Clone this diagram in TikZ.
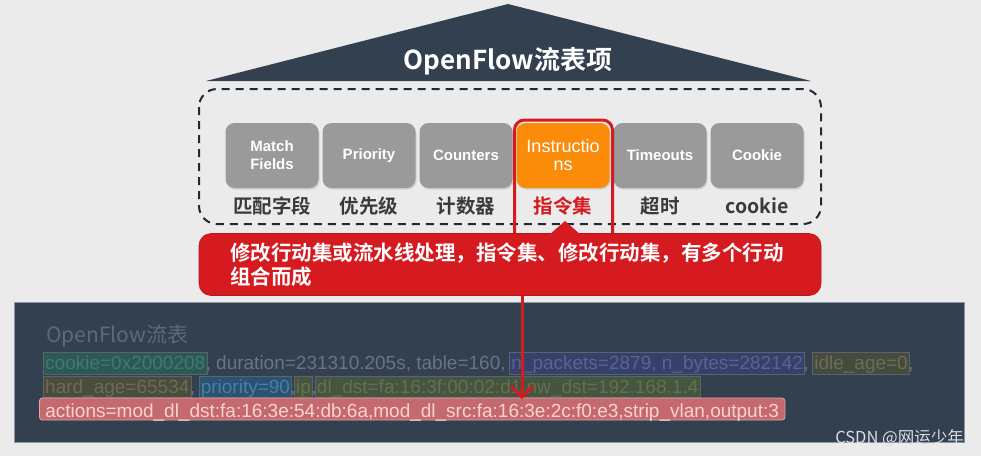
\documentclass[tikz,border=0pt]{standalone}
\usepackage{fontspec}
\setmainfont{Liberation Sans}
\newfontfamily\cjk{Noto Sans CJK SC}
\newfontfamily\cjkb{Noto Sans CJK SC Bold}
\usetikzlibrary{arrows.meta,fit,shadows}
\definecolor{bgcol}{HTML}{EBEBEB}
\definecolor{roofcol}{HTML}{334050}
\definecolor{dashcol}{HTML}{1F2A38}
\definecolor{boxgray}{HTML}{9A9A9A}
\definecolor{orangecol}{HTML}{FA8C0A}
\definecolor{redcol}{HTML}{D51A20}
\definecolor{labcol}{HTML}{3A3A3A}
\definecolor{panelcol}{HTML}{334050}
\definecolor{panelborder}{HTML}{8A96A2}
\definecolor{ptitle}{HTML}{5E6A78}
\definecolor{plain}{HTML}{6A7482}
\definecolor{cookfill}{HTML}{2D5954}\definecolor{cooktext}{HTML}{3F7A70}
\definecolor{pktfill}{HTML}{37406A}\definecolor{pkttext}{HTML}{5A6490}
\definecolor{idlefill}{HTML}{474B3D}\definecolor{idletext}{HTML}{6B6D57}
\definecolor{hardfill}{HTML}{4A4C3E}\definecolor{hardtext}{HTML}{6C6B55}
\definecolor{prifill}{HTML}{2A5373}\definecolor{pritext}{HTML}{4C7EA2}
\definecolor{ipfill}{HTML}{49543F}\definecolor{iptext}{HTML}{66724F}
\definecolor{dlfill}{HTML}{45553F}\definecolor{dltext}{HTML}{63714F}
\definecolor{hlborder}{HTML}{56666E}
\definecolor{actfill}{HTML}{C4696E}
\definecolor{actborder}{HTML}{E2A6A8}
\definecolor{acttext}{HTML}{FBD2D2}
\definecolor{wmcol}{HTML}{D9DEE3}
\pgfdeclarelayer{back}
\pgfdeclarelayer{mid}
\pgfsetlayers{back,mid,main}
\newcommand{\segsp}{\kern0.278em}
\tikzset{
  gbox/.style={fill=boxgray, rounded corners=9pt, minimum width=93pt, minimum height=65pt,
    text=white, font=\fontsize{15}{18}\selectfont\bfseries, align=center, inner sep=0pt,
    drop shadow={shadow xshift=1pt, shadow yshift=-1.5pt, opacity=0.25}},
  lab/.style={text=labcol, font=\cjkb\fontsize{19.5}{22}\selectfont, inner sep=0pt},
  seg/.style={anchor=base west, inner sep=0pt, font=\fontsize{19}{22}\selectfont,
    text height=15pt, text depth=3pt},
  hl/.style={rectangle, inner xsep=1.5pt, inner ysep=1.5pt, draw=hlborder, line width=0.8pt}
}
\begin{document}
\begin{tikzpicture}[x=1pt,y=-1pt]
\begin{pgfonlayer}{back}
\fill[bgcol] (0,0) rectangle (981,456);
\draw[panelborder, fill=panelcol, line width=0.8pt] (14,302) rectangle (964,442);
\end{pgfonlayer}
\useasboundingbox (0,0) rectangle (981,456);

% roof
\fill[roofcol] (206,81) -- (508,4) -- (811,81) -- cycle;
\node[text=white, font=\cjkb\fontsize{26}{30}\selectfont, inner sep=0pt] (title) at (508,61) {OpenFlow流表项};

% dashed frame
\draw[dashcol, line width=2pt, dash pattern=on 8pt off 6pt, rounded corners=18pt] (199,89) rectangle (821,224);

% field boxes
\node[gbox] (mf) at (272,155.5) {Match\\Fields};
\node[gbox] (pr) at (369,155.5) {Priority};
\node[gbox] (co) at (466,155.5) {Counters};
\node[gbox, fill=orangecol, font=\fontsize{18}{18}\selectfont] (ins) at (563,155.5) {Instructio\\ns};
\node[gbox] (to) at (660,155.5) {Timeouts};
\node[gbox] (ck) at (757,155.5) {Cookie};

% labels
\node[lab] (l1) at (272,206) {匹配字段};
\node[lab] (l2) at (369,206) {优先级};
\node[lab] (l3) at (466,206) {计数器};
\node[lab, text=redcol] (l4) at (563,206) {指令集};
\node[lab] (l5) at (660,206) {超时};
\node[lab] (l6) at (757,206) {cookie};

% red highlight frame around Instructions
\draw[redcol, line width=3pt, rounded corners=10pt] (514.5,235) -- (514.5,120) -- (612.5,120) -- (612.5,235);

% callout
\node[fill=redcol, draw=redcol!85!black, line width=0.6pt, rounded corners=12pt, minimum width=622pt, minimum height=62pt,
  text width=560pt, align=left, text=white, font=\cjkb\fontsize{20.5}{24}\selectfont, inner sep=0pt]
  (call) at (510,264.5) {修改行动集或流水线处理，指令集、修改行动集，有多个行动\\组合而成};
\fill[redcol] (549,235) -- (565,221) -- (581,235) -- cycle;

% panel texts
\node[anchor=base west, text=ptitle, font=\cjk\fontsize{21}{24}\selectfont, inner sep=0pt] (pt) at (46,342) {OpenFlow流表};

\node[seg, text=cooktext] (r1a) at (45,369.5) {cookie=0x2000208};
\node[seg, text=plain] (r1b) at (r1a.base east) {, duration=231310.205s, table=160,\segsp};
\node[seg, text=pkttext] (r1c) at (r1b.base east) {n\_packets=2879, n\_bytes=282142};
\node[seg, text=plain] (r1d) at (r1c.base east) {,\segsp};
\node[seg, text=idletext] (r1e) at (r1d.base east) {idle\_age=0};
\node[seg, text=plain] (r1f) at (r1e.base east) {,};

\node[seg, text=hardtext] (r2a) at (45,393) {hard\_age=65534};
\node[seg, text=plain] (r2b) at (r2a.base east) {,\segsp};
\node[seg, text=pritext] (r2c) at (r2b.base east) {priority=90};
\node[seg, text=plain] (r2d) at (r2c.base east) {,};
\node[seg, text=iptext] (r2e) at (r2d.base east) {ip};
\node[seg, text=plain] (r2f) at (r2e.base east) {,};
\node[seg, text=dltext] (r2g) at (r2f.base east) {dl\_dst=fa:16:3f:00:02:d1,nw\_dst=192.168.1.4};

\node[anchor=base west, fill=actfill, draw=actborder, line width=0.8pt, text=acttext, rounded corners=3pt,
  inner xsep=6pt, inner ysep=2pt, text height=17pt, text depth=1pt, font=\fontsize{19}{22}\selectfont]
  (act) at (39,417) {actions=mod\_dl\_dst:fa:16:3e:54:db:6a,mod\_dl\_src:fa:16:3e:2c:f0:e3,strip\_vlan,output:3};

\begin{pgfonlayer}{mid}
\node[hl, fill=cookfill, fit=(r1a)] (h1) {};
\node[hl, fill=pktfill, fit=(r1c)] (h2) {};
\node[hl, fill=idlefill, fit=(r1e)] (h3) {};
\node[hl, fill=hardfill, fit=(r2a)] (h4) {};
\node[hl, fill=prifill, fit=(r2c)] (h5) {};
\node[hl, fill=ipfill, fit=(r2e)] (h6) {};
\node[hl, fill=dlfill, fit=(r2g)] (h7) {};
\end{pgfonlayer}

% arrow
\coordinate (atip) at (522,399);
\draw[redcol, line width=3pt, -{Straight Barb[length=11pt,width=22pt]}] (call.south -| atip) -- (atip);

% watermark
\node[anchor=base east, text=wmcol, font=\cjk\fontsize{16.5}{18}\selectfont, inner sep=0pt] (wm) at (964,443) {CSDN @网运少年};
\end{tikzpicture}
\end{document}
